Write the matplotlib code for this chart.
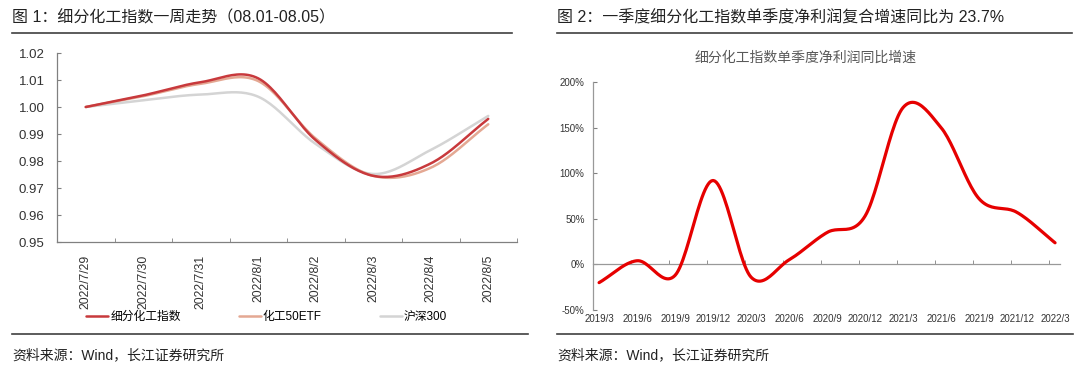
import numpy as np
import matplotlib
matplotlib.use('Agg')
import matplotlib.pyplot as plt
from matplotlib.lines import Line2D

plt.rcParams['font.family'] = ['Liberation Sans', 'Noto Sans CJK SC', 'DejaVu Sans']
plt.rcParams['axes.unicode_minus'] = False

# left chart: weekly trend
days = ['2022/7/29', '2022/7/30', '2022/7/31', '2022/8/1',
        '2022/8/2', '2022/8/3', '2022/8/4', '2022/8/5']
idx_chem = [1.000, 1.0043, 1.0092, 1.0106, 0.9877, 0.9745, 0.9791, 0.9956]
etf_chem = [1.000, 1.0040, 1.0086, 1.0096, 0.9883, 0.9745, 0.9775, 0.9936]
hs300 = [1.000, 1.0025, 1.0046, 1.0038, 0.9863, 0.9752, 0.9841, 0.9967]
left_names = ['细分化工指数', '化工50ETF', '沪深300']

# right chart: quarterly yoy growth
quarters = ['2019/3', '2019/6', '2019/9', '2019/12', '2020/3', '2020/6', '2020/9',
            '2020/12', '2021/3', '2021/6', '2021/9', '2021/12', '2022/3']
growth = [-20, 4, -12, 92, -14, 5, 35, 53, 172, 150, 72, 57, 23.7]


def smooth(x, y, n=24):
    # excel style smoothed line (catmull-rom through the points)
    x = np.asarray(x, float)
    y = np.asarray(y, float)
    px = np.concatenate([[2 * x[0] - x[1]], x, [2 * x[-1] - x[-2]]])
    py = np.concatenate([[2 * y[0] - y[1]], y, [2 * y[-1] - y[-2]]])
    xs, ys = [], []
    t = np.linspace(0, 1, n, endpoint=False)
    for i in range(1, len(px) - 2):
        for p, out in ((px, xs), (py, ys)):
            p0, p1, p2, p3 = p[i - 1], p[i], p[i + 1], p[i + 2]
            out.append(0.5 * (2 * p1 + (-p0 + p2) * t + (2 * p0 - 5 * p1 + 4 * p2 - p3) * t ** 2
                              + (-p0 + 3 * p1 - 3 * p2 + p3) * t ** 3))
    xs.append([x[-1]])
    ys.append([y[-1]])
    return np.concatenate(xs), np.concatenate(ys)


W, H = 1080, 365
fig = plt.figure(figsize=(W / 100, H / 100), dpi=100)


def fx(px):
    return px / W


def fy(py):
    return 1 - py / H


def hline(x0, x1, y, lw=1.2, color='#404040'):
    fig.add_artist(Line2D([fx(x0), fx(x1)], [fy(y), fy(y)], transform=fig.transFigure,
                          color=color, lw=lw))


# headers / footers
fig.text(fx(12), fy(18), '图 1：细分化工指数一周走势（08.01-08.05）', fontsize=11.5,
         va='center', ha='left', color='#222222')
fig.text(fx(557), fy(18), '图 2：一季度细分化工指数单季度净利润复合增速同比为 23.7%', fontsize=11.5,
         va='center', ha='left', color='#222222')
hline(12, 512, 33)
hline(557, 1072, 33)
hline(12, 528, 334)
hline(557, 1073, 334)
fig.text(fx(12), fy(355), '资料来源：Wind，长江证券研究所', fontsize=10, va='center', color='#222222')
fig.text(fx(557), fy(355), '资料来源：Wind，长江证券研究所', fontsize=10, va='center', color='#222222')

# ---- left chart
ax1 = fig.add_axes([fx(57), fy(242), (517 - 57) / W, (242 - 53) / H])
xpos = np.arange(len(days))
colors = ['#C8393C', '#E4A893', '#D4D4D4']
series = [idx_chem, etf_chem, hs300]
handles = []
for vals, name, c, z in zip(series, left_names, colors, [3, 2, 1]):
    sx, sy = smooth(xpos, vals)
    h, = ax1.plot(sx, sy, color=c, lw=1.8, label=name, zorder=z, solid_capstyle='round')
    handles.append(h)
ax1.set_xlim(-0.5, len(days) - 0.5)
ax1.set_ylim(0.95, 1.02)
ax1.set_yticks(np.arange(0.95, 1.0201, 0.01))
ax1.set_yticklabels([f'{v:.2f}' for v in np.arange(0.95, 1.0201, 0.01)])
ax1.set_xticks(xpos)
ax1.set_xticklabels(days, rotation=90)
ax1.set_xticks(np.arange(-0.5, len(days)), minor=True)
ax1.tick_params(axis='x', which='major', length=0, pad=9, labelsize=8.8, colors='#333333')
ax1.tick_params(axis='x', which='minor', direction='in', length=3, color='#808080')
ax1.tick_params(axis='y', direction='in', length=3, color='#808080', labelsize=9.5,
                labelcolor='#333333', pad=9)
for s in ['top', 'right']:
    ax1.spines[s].set_visible(False)
for s in ['left', 'bottom']:
    ax1.spines[s].set_color('#808080')
    ax1.spines[s].set_linewidth(0.9)
fig.legend(handles=handles, loc='center left', bbox_to_anchor=(fx(86), fy(317)),
           ncol=3, frameon=False, borderpad=0, borderaxespad=0, handlelength=1.9,
           handletextpad=0.15, columnspacing=4.9, prop={'size': 8.5})

# ---- right chart
ax2 = fig.add_axes([fx(593), fy(310), (1060 - 593) / W, (310 - 82) / H])
qpos = np.arange(len(quarters))
sx, sy = smooth(qpos, growth)
ax2.plot(sx, sy, color='#E60000', lw=2.3, solid_capstyle='round', zorder=3)
ax2.set_xlim(-0.16, len(quarters) - 1 + 0.13)
ax2.set_ylim(-50, 200)
ax2.set_yticks(np.arange(-50, 201, 50))
ax2.set_yticklabels([f'{v}%' for v in range(-50, 201, 50)])
ax2.spines['bottom'].set_position(('data', 0))
ax2.set_xticks(qpos)
ax2.set_xticklabels(quarters)
ax2.set_xticks(qpos - 0.16, minor=True)
ax2.tick_params(axis='x', which='major', length=0, pad=36, labelsize=7, colors='#333333')
ax2.tick_params(axis='x', which='minor', direction='in', length=3, color='#808080')
ax2.tick_params(axis='y', direction='in', length=3, color='#808080', labelsize=7,
                labelcolor='#333333', pad=6)
for s in ['top', 'right']:
    ax2.spines[s].set_visible(False)
for s in ['left', 'bottom']:
    ax2.spines[s].set_color('#999999')
    ax2.spines[s].set_linewidth(0.9)
fig.text(fx(806), fy(58), '细分化工指数单季度净利润同比增速', fontsize=10, ha='center',
         va='center', color='#595959')

fig.savefig('out.png', dpi=100)
